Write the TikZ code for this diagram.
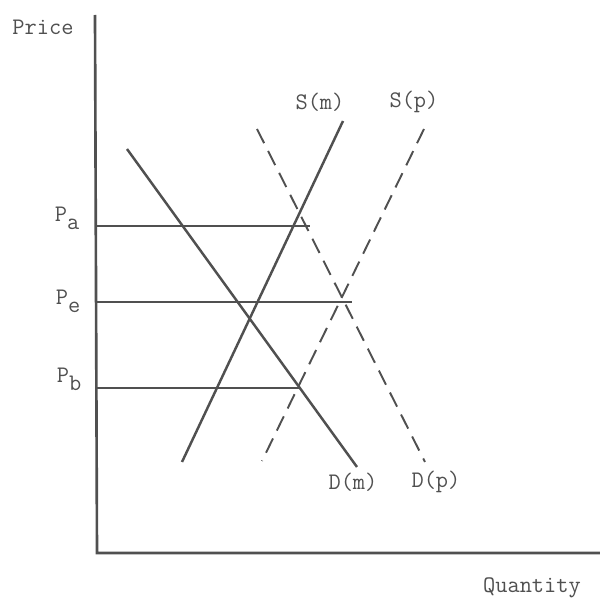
\documentclass[tikz,border=0pt]{standalone}
\usetikzlibrary{positioning}
\definecolor{inkcol}{HTML}{505050}
\definecolor{textcol}{HTML}{505050}
\tikzset{
  axis/.style={draw=inkcol, line width=1.5pt},
  curve/.style={draw=inkcol, line width=1.4pt},
  pcurve/.style={draw=inkcol, line width=1.1pt, dash pattern=on 9pt off 5pt},
  level/.style={draw=inkcol, line width=1.3pt},
  lbl/.style={font=\ttfamily\fontsize{13.5}{15}\selectfont, text=textcol, inner sep=1pt},
}
\newcommand{\plevel}[1]{P\raisebox{-0.8ex}{#1}}

\begin{document}
\begin{tikzpicture}[x=0.02cm, y=-0.02cm]
  \useasboundingbox (0,0) rectangle (600,598);
  % axes
  \coordinate (O)    at (97,553);
  \coordinate (ytop) at (95,15);
  \coordinate (xend) at (600,553);
  \draw[axis] (ytop) -- (O) -- (xend);
  \node[lbl] (price) at (43,27)  {Price};
  \node[lbl] (qty)   at (532,588) {Quantity};
  % demand and supply, m solid and p dashed
  \coordinate (dm1) at (127,149); \coordinate (dm2) at (357,467);
  \coordinate (dp1) at (257,129); \coordinate (dp2) at (425,462);
  \coordinate (sm1) at (182,462); \coordinate (sm2) at (343,121);
  \coordinate (sp1) at (262,461); \coordinate (sp2) at (424,129);
  \draw[curve]  (dm1) -- (dm2);
  \draw[pcurve] (dp1) -- (dp2);
  \draw[curve]  (sm1) -- (sm2);
  \draw[pcurve] (sp2) -- (sp1);
  \node[lbl] (Sm) at (320,102) {S(m)};
  \node[lbl] (Sp) at (414,102) {S(p)};
  \node[lbl] (Dm) at (353,482) {D(m)};
  \node[lbl] (Dp) at (436,482) {D(p)};
  % price levels
  \coordinate (pa0) at (97,226); \coordinate (pa1) at (310,226);
  \coordinate (pe0) at (97,302); \coordinate (pe1) at (352,302);
  \coordinate (pb0) at (97,388); \coordinate (pb1) at (300,388);
  \draw[level] (pa0) -- (pa1);
  \draw[level] (pe0) -- (pe1);
  \draw[level] (pb0) -- (pb1);
  \node[lbl] (Pa) at (67,218) {\plevel{a}};
  \node[lbl] (Pe) at (68,301) {\plevel{e}};
  \node[lbl] (Pb) at (69,379) {\plevel{b}};
\end{tikzpicture}
\end{document}
